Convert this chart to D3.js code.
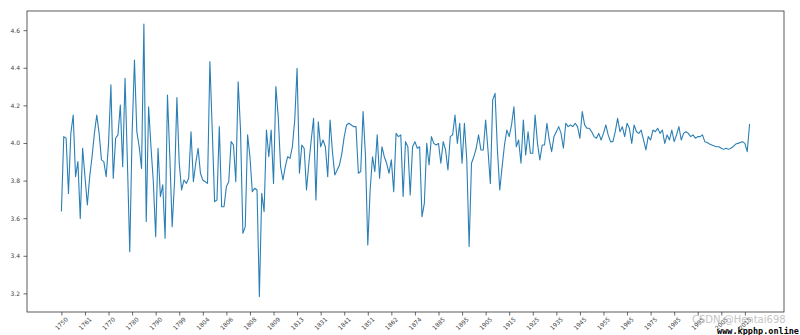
<!DOCTYPE html>
<html>
<head>
<meta charset="utf-8">
<script src="https://cdn.jsdelivr.net/npm/d3@7"></script>
<style>
  body { margin: 0; background: white; }
</style>
</head>
<body>
<svg id="plot"></svg>
<script>
// Values, one per category
const values = [
  3.635, 4.034, 4.025, 3.732, 4.051, 4.149, 3.821, 3.901, 3.599, 3.972,
  3.821, 3.670, 3.821, 3.927, 4.051, 4.149, 4.051, 3.910, 3.901, 3.821,
  3.998, 4.309, 3.812, 4.025, 4.043, 4.202, 3.874, 4.344, 3.900, 3.422,
  4.051, 4.441, 4.060, 3.980, 3.865, 4.633, 3.582, 4.193, 3.980, 3.794,
  3.502, 3.972, 3.715, 3.777, 3.493, 4.255, 3.927, 3.555, 3.794, 4.241,
  3.892, 3.750, 3.803, 3.785, 3.812, 4.060, 3.794, 3.892, 3.972, 3.839,
  3.803, 3.794, 3.785, 4.433, 4.069, 3.688, 3.697, 4.087, 3.661, 3.661,
  3.768, 3.794, 4.007, 3.989, 3.794, 4.326, 4.069, 3.520, 3.555, 4.043,
  3.927, 3.741, 3.759, 3.750, 3.183, 3.732, 3.635, 4.069, 3.927, 4.069,
  3.785, 4.300, 4.140, 3.874, 3.803, 3.874, 3.927, 3.918, 3.980, 4.122,
  4.397, 3.839, 3.989, 3.972, 3.750, 3.892, 4.016, 4.131, 3.697, 4.113,
  3.980, 4.016, 3.980, 3.821, 4.122, 3.954, 3.830, 3.856, 3.883, 3.945,
  4.034, 4.096, 4.105, 4.096, 4.087, 4.087, 3.839, 3.848, 4.167, 3.936,
  3.457, 3.750, 3.927, 3.848, 4.043, 3.812, 3.980, 3.927, 3.892, 3.839,
  3.910, 3.741, 4.051, 4.034, 4.043, 3.715, 4.007, 3.980, 3.723, 3.980,
  4.007, 3.972, 3.980, 3.608, 3.679, 3.998, 3.883, 4.034, 3.998, 3.989,
  3.998, 3.892, 4.007, 3.963, 3.856, 4.034, 4.043, 4.149, 3.998, 4.105,
  3.892, 4.105, 3.910, 3.449, 3.892, 3.927, 3.972, 4.043, 3.963, 3.963,
  4.122, 3.963, 3.785, 4.229, 4.264, 3.963, 3.750, 3.874, 3.989, 4.069,
  4.034, 4.096, 4.193, 3.980, 4.016, 3.892, 4.122, 3.936, 4.060, 3.945,
  3.945, 4.149, 3.998, 3.910, 3.989, 3.989, 4.105, 4.016, 3.954, 4.034,
  4.060, 4.087, 4.051, 3.972, 4.105, 4.087, 4.096, 4.087, 4.105, 4.087,
  4.025, 4.167, 4.096, 4.078, 4.078, 4.060, 4.034, 4.025, 4.051, 4.016,
  4.051, 4.096, 4.043, 4.007, 4.007, 4.060, 4.131, 4.060, 4.087, 4.034,
  4.105, 4.078, 3.998, 4.096, 4.060, 4.051, 4.069, 4.016, 3.963, 4.034,
  4.016, 4.069, 4.060, 4.078, 4.051, 4.069, 3.998, 4.043, 4.016, 4.069,
  4.007, 4.043, 4.087, 4.016, 4.051, 4.060, 4.051, 4.034, 4.043, 4.025,
  4.034, 4.034, 4.043, 4.007, 4.002, 3.995, 3.989, 3.984, 3.980, 3.980,
  3.972, 3.966, 3.972, 3.966, 3.972, 3.980, 3.993, 3.998, 4.002, 4.007,
  3.998, 3.954, 4.101
];

// x tick labels, one every 10 categories
const xTickLabels = [
  '1750', '1761', '1770', '1780', '1790', '1799', '1804', '1806', '1808', '1809',
  '1813', '1831', '1841', '1851', '1862', '1874', '1885', '1895', '1905', '1915',
  '1925', '1935', '1945', '1955', '1965', '1975', '1985', '1995', '2005', '2015'
];

const yTicks = [3.2, 3.4, 3.6, 3.8, 4.0, 4.2, 4.4, 4.6];

// Dimensions and margins
let width = 800, height = 335;
let margin = {
  top: 11,
  bottom: 23,
  left: 27,
  right: 16
};

let svg = d3.select('#plot')
  .attr('width', width)
  .attr('height', height)
  .style('background', 'white');

// Scales (matplotlib style 5% padding on x)
let n = values.length - 1;
let pad = n * 0.05;

let xScale = d3.scaleLinear()
  .domain([-pad, n + pad])
  .range([margin.left, width - margin.right]);

let yScale = d3.scaleLinear()
  .domain([3.101, 4.702])
  .range([height - margin.bottom, margin.top]);

// Axes
let xAxis = svg.append('g')
  .attr('transform', `translate(0, ${height - margin.bottom})`)
  .call(d3.axisBottom(xScale)
    .tickValues(d3.range(0, xTickLabels.length * 10, 10))
    .tickFormat((d, i) => xTickLabels[i])
    .tickSize(3.5)
    .tickSizeOuter(0));

xAxis.selectAll('text')
  .attr('x', 0)
  .attr('y', 0)
  .attr('dy', null)
  .attr('transform', 'translate(0, 12) rotate(-45)')
  .attr('dominant-baseline', 'middle')
  .style('text-anchor', 'middle');

let yAxis = svg.append('g')
  .attr('transform', `translate(${margin.left}, 0)`)
  .call(d3.axisLeft(yScale)
    .tickValues(yTicks)
    .tickFormat(d3.format('.1f'))
    .tickSize(3.5)
    .tickPadding(3.5)
    .tickSizeOuter(0));

svg.selectAll('.domain').remove();
svg.selectAll('.tick line').attr('stroke', '#444').attr('stroke-width', 0.8);
svg.selectAll('.tick text')
  .style('font-family', 'DejaVu Sans')
  .style('font-size', '6px')
  .attr('fill', '#444');

// Frame
svg.append('rect')
  .attr('x', margin.left)
  .attr('y', margin.top)
  .attr('width', width - margin.left - margin.right)
  .attr('height', height - margin.top - margin.bottom)
  .attr('fill', 'none')
  .attr('stroke', '#333')
  .attr('stroke-width', 0.8);

// Line
let line = d3.line()
  .x((d, i) => xScale(i))
  .y(d => yScale(d));

svg.append('path')
  .datum(values)
  .attr('d', line)
  .attr('fill', 'none')
  .attr('stroke', '#2a7fb5')
  .attr('stroke-width', 1.1)
  .attr('stroke-linejoin', 'round');

// Watermarks
svg.append('text')
  .attr('x', 692)
  .attr('y', 323)
  .style('font-family', 'DejaVu Sans')
  .style('font-size', '10px')
  .attr('fill', '#c4c4c4')
  .text('CSDN @Hentai698');

svg.append('text')
  .attr('x', 799)
  .attr('y', 334)
  .style('font-family', 'DejaVu Sans Mono')
  .style('font-size', '8.5px')
  .style('font-weight', 'bold')
  .style('text-anchor', 'end')
  .attr('fill', '#000')
  .text('www.kpphp.online');
</script>
</body>
</html>
